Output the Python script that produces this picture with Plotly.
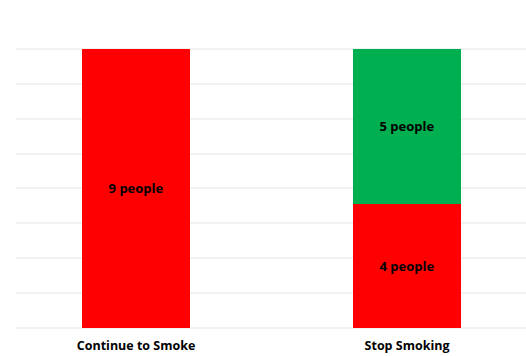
import plotly.graph_objects as go

categories = ["Continue to Smoke", "Stop Smoking"]
red_values = [9, 4]
green_values = [0, 5]
red_labels = ["9 people", "4 people"]
green_labels = ["", "5 people"]

bar_font = dict(family="Open Sans", size=13, color="#000000", weight="bold")
axis_font = dict(family="Open Sans", size=12.5, color="#000000", weight="bold")

fig = go.Figure()
fig.add_trace(go.Bar(
    x=[0, 1], y=red_values, text=red_labels, width=0.4,
    marker=dict(color="#FF0000", line=dict(width=0)),
    textposition="inside", insidetextanchor="middle",
    textfont=bar_font, hoverinfo="skip",
))
fig.add_trace(go.Bar(
    x=[0, 1], y=green_values, text=green_labels, width=0.4,
    marker=dict(color="#00B050", line=dict(width=0)),
    textposition="inside", insidetextanchor="middle",
    textfont=bar_font, hoverinfo="skip",
))

fig.update_layout(
    barmode="stack",
    width=526, height=356,
    margin=dict(l=16, r=0, t=14, b=28, autoexpand=False),
    paper_bgcolor="#FFFFFF", plot_bgcolor="#FFFFFF",
    showlegend=False,
)
fig.update_xaxes(
    range=[-0.443, 1.439], automargin=False,
    tickmode="array", tickvals=[0, 1], ticktext=categories,
    tickfont=axis_font,
    showgrid=False, zeroline=False, showline=False, ticks="",
    ticklabelstandoff=8,
)
fig.update_yaxes(
    range=[0, 10.125], dtick=1.125, tick0=0, automargin=False,
    showticklabels=False, showgrid=True, gridcolor="#F2F2F2", gridwidth=2,
    zeroline=True, zerolinecolor="#F2F2F2", zerolinewidth=2,
    showline=False, ticks="",
)

fig.write_html(
    "out.html",
    post_script="document.body.style.margin='0';document.body.style.overflow='hidden';",
)
